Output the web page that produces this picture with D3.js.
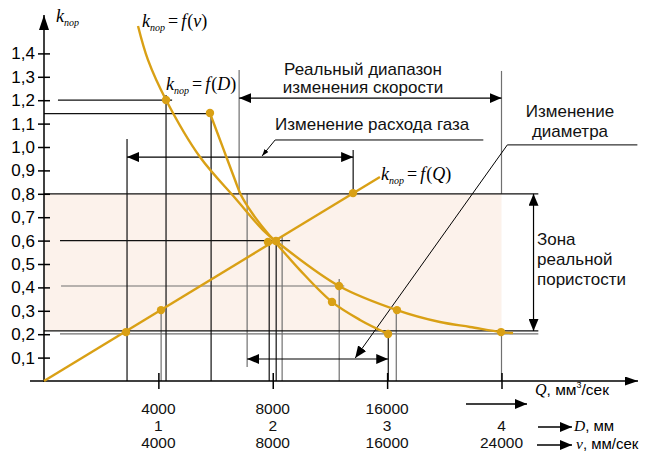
<!DOCTYPE html>
<html>
<head>
<meta charset="utf-8">
<script src="https://cdn.jsdelivr.net/npm/d3@7"></script>
<style>
  body { margin: 0; background: #fff; }
  svg { display: block; font-family: "Liberation Sans", Arial, sans-serif; }
  .math { font-family: "Liberation Serif", "Times New Roman", serif; font-style: italic; }
</style>
</head>
<body>
<svg id="chart" width="654" height="452"></svg>
<script>
// x runs in "position" units (tick 1..4), y is k_пор
var kTicks = [0.1, 0.2, 0.3, 0.4, 0.5, 0.6, 0.7, 0.8, 0.9, 1.0, 1.1, 1.2, 1.3, 1.4];
var xTicks = [1, 2, 3, 4];
var qLabels = ["4000", "8000", "16000"];
var dLabels = ["1", "2", "3", "4"];
var vLabels = ["4000", "8000", "16000", "24000"];

// zone of real porosity
var zone = [0.214, 0.8];

// curves, [position, k]
var curveV = [[0.822, 1.517], [0.909, 1.372], [1.067, 1.201], [1.364, 0.957], [1.678, 0.778],
  [1.915, 0.645], [2.028, 0.598], [2.579, 0.406], [3.086, 0.303], [3.462, 0.252],
  [3.725, 0.231], [3.996, 0.209], [4.101, 0.205]];
var curveD = [[1.451, 1.145], [1.565, 0.996], [1.670, 0.859], [1.722, 0.795], [1.819, 0.718],
  [1.932, 0.645], [2.081, 0.560], [2.238, 0.474], [2.518, 0.338], [2.763, 0.261], [3.008, 0.201]];
var lineQ = [[0, 0], [2.937, 0.872]];

var dotsV = [[1.067, 1.201], [2.579, 0.406], [3.086, 0.303], [3.996, 0.209]];
var dotsD = [[1.451, 1.145], [2.518, 0.338], [3.008, 0.201]];
var dotsQ = [[0.717, 0.209], [1.023, 0.303], [1.958, 0.594], [2.028, 0.598], [2.702, 0.803]];

// guide lines: vertical [pos, k0, k1], horizontal [k, pos0, pos1]
var vDark = [[0.726, 0, 1.034], [1.067, 0, 1.222], [1.461, 0, 1.158], [1.969, 0, 0.594],
  [2.03, 0, 0.6], [2.703, 0.8, 0.987], [3.01, 0, 0.2]];
var vGray = [[1.024, 0, 0.303], [1.706, 0.8, 1.329], [1.776, 0.06, 0.8], [2.082, 0, 0.62],
  [2.581, 0, 0.436], [3.08, 0, 0.303], [4.0, 0.8, 1.325], [4.0, 0, 0.214]];
var hDark = [[1.2, 0.122, 1.12], [1.143, 0, 1.461], [0.8, 0, 4.322], [0.6, 0.14, 2.152],
  [0.214, 0, 4.322]];
var hGray = [[0.406, 0.149, 2.625], [0.201, 0.14, 4.322]];

// range arrows [pos0, k0, pos1, k1]
var ranges = [[1.706, 1.209, 4.0, 1.209], [0.726, 0.957, 2.703, 0.957],
  [1.776, 0.094, 3.01, 0.094], [4.28, 0.8, 4.28, 0.214]];

var gold = "#d9a015";

var svg = d3.select("#chart");
var x = d3.scaleLinear().domain([0, 4]).range([44, 501.5]);
var y = d3.scaleLinear().domain([0, 1.4]).range([381, 53.4]);

// -- arrow heads
var defs = svg.append("defs");
function marker(id, len, half) {
  defs.append("marker")
    .attr("id", id)
    .attr("markerUnits", "userSpaceOnUse")
    .attr("markerWidth", len).attr("markerHeight", half * 2)
    .attr("refX", len).attr("refY", half)
    .attr("orient", "auto-start-reverse")
    .append("path")
    .attr("d", "M0,0L" + len + "," + half + "L0," + (half * 2) + "Z")
    .attr("fill", "#000");
}
marker("ah", 12, 5);
marker("ahs", 7, 2.5);
marker("ahy", 15, 5);
marker("ahx", 13, 4.5);

// -- shaded zone
svg.append("rect")
  .attr("x", x(0)).attr("y", y(zone[1]))
  .attr("width", x(4) - x(0)).attr("height", y(zone[0]) - y(zone[1]))
  .attr("fill", "#fcf2eb");

// -- guide lines
function vlines(data, color) {
  svg.append("g").selectAll("line").data(data).enter().append("line")
    .attr("x1", function(d) { return x(d[0]); }).attr("x2", function(d) { return x(d[0]); })
    .attr("y1", function(d) { return y(d[1]); }).attr("y2", function(d) { return y(d[2]); })
    .attr("stroke", color).attr("stroke-width", 1.2);
}
function hlines(data, color) {
  svg.append("g").selectAll("line").data(data).enter().append("line")
    .attr("x1", function(d) { return x(d[1]); }).attr("x2", function(d) { return x(d[2]); })
    .attr("y1", function(d) { return y(d[0]); }).attr("y2", function(d) { return y(d[0]); })
    .attr("stroke", color).attr("stroke-width", 1.2);
}
vlines(vGray, "#707070");
hlines(hGray, "#707070");
vlines(vDark, "#111");
hlines(hDark, "#111");

// -- y axis
var yAxis = svg.append("g")
  .attr("transform", "translate(" + x(0) + ",0)")
  .call(d3.axisLeft(y).tickValues(kTicks).tickSize(6)
    .tickFormat(function(d) { return d3.format(".1f")(d).replace(".", ","); }));
yAxis.select(".domain").remove();
yAxis.selectAll(".tick line").attr("x1", -6).attr("x2", 6).attr("stroke", "#000").attr("stroke-width", 1.5);
yAxis.selectAll(".tick text").attr("x", -9).attr("font-size", 17)
  .attr("font-family", "Liberation Sans, Arial, sans-serif").attr("fill", "#000");
svg.append("line")
  .attr("x1", x(0)).attr("x2", x(0)).attr("y1", y(0) + 1).attr("y2", 15)
  .attr("stroke", "#000").attr("stroke-width", 1.5).attr("marker-end", "url(#ahy)");

// -- x axis
var xAxis = svg.append("g")
  .attr("transform", "translate(0," + y(0) + ")")
  .call(d3.axisBottom(x).tickValues(xTicks).tickSize(8).tickFormat(""));
xAxis.select(".domain").remove();
xAxis.selectAll(".tick line").attr("y1", -8).attr("y2", 8).attr("stroke", "#000").attr("stroke-width", 1.5);
svg.append("line")
  .attr("x1", 30).attr("x2", 638).attr("y1", y(0)).attr("y2", y(0))
  .attr("stroke", "#000").attr("stroke-width", 1.5).attr("marker-end", "url(#ahx)");

// -- range arrows
svg.append("g").selectAll("line").data(ranges).enter().append("line")
  .attr("x1", function(d) { return x(d[0]); }).attr("y1", function(d) { return y(d[1]); })
  .attr("x2", function(d) { return x(d[2]); }).attr("y2", function(d) { return y(d[3]); })
  .attr("stroke", "#000").attr("stroke-width", 1.2)
  .attr("marker-start", "url(#ah)").attr("marker-end", "url(#ah)");

// -- leaders
svg.append("path")
  .attr("d", "M" + x(3.841) + "," + y(1.03) + "L" + x(2.021) + "," + y(1.03) + "L" + x(1.907) + "," + y(0.962))
  .attr("fill", "none").attr("stroke", "#000").attr("stroke-width", 1).attr("marker-end", "url(#ahs)");
svg.append("path")
  .attr("d", "M" + x(5.188) + "," + y(1.009) + "L" + x(4.051) + "," + y(1.009) + "L" + x(2.721) + "," + y(0.098))
  .attr("fill", "none").attr("stroke", "#000").attr("stroke-width", 1).attr("marker-end", "url(#ah)");

// -- curves
var line = d3.line()
  .x(function(d) { return x(d[0]); })
  .y(function(d) { return y(d[1]); })
  .curve(d3.curveCatmullRom);
[curveV, curveD, lineQ].forEach(function(c) {
  svg.append("path").datum(c).attr("d", line)
    .attr("fill", "none").attr("stroke", gold).attr("stroke-width", 2.4);
});
svg.append("g").selectAll("circle").data(dotsV.concat(dotsD, dotsQ)).enter().append("circle")
  .attr("cx", function(d) { return x(d[0]); })
  .attr("cy", function(d) { return y(d[1]); })
  .attr("r", 4.2).attr("fill", gold);

// -- k_пор = f(...) labels
function kLabel(px, py, arg) {
  var t = svg.append("text").attr("class", "math").attr("x", px).attr("y", py).attr("font-size", 18);
  t.append("tspan").text("k");
  t.append("tspan").attr("font-size", 10).attr("dy", 4).text("пор");
  if (arg) {
    t.append("tspan").attr("dy", -4).attr("font-style", "normal").attr("dx", 3).text("=");
    t.append("tspan").attr("dx", 3).text("f");
    t.append("tspan").attr("font-style", "normal").attr("dx", 1).text("(");
    t.append("tspan").text(arg);
    t.append("tspan").attr("font-style", "normal").text(")");
  }
}
kLabel(56, 22, null);
kLabel(142, 27, "v");
kLabel(166, 90, "D");
kLabel(381, 180, "Q");

// -- annotations
function label(px, py, str, anchor) {
  svg.append("text").attr("x", px).attr("y", py).attr("font-size", 17)
    .attr("text-anchor", anchor || "start").attr("fill", "#111").text(str);
}
label(363, 75, "Реальный диапазон", "middle");
label(363, 93, "изменения скорости", "middle");
label(275, 130, "Изменение расхода газа");
label(570, 117, "Изменение", "middle");
label(570, 137, "диаметра", "middle");
label(537, 245, "Зона");
label(537, 265, "реальной");
label(537, 285, "пористости");

// -- bottom scale rows
function row(labels, py) {
  svg.append("g").selectAll("text").data(labels).enter().append("text")
    .attr("x", function(d, i) { return x(xTicks[i]); }).attr("y", py)
    .attr("text-anchor", "middle").attr("font-size", 15.5).attr("fill", "#111")
    .text(function(d) { return d; });
}
row(qLabels, 414);
row(dLabels, 431);
row(vLabels, 448);

// row arrows and unit names
[[466, 527, 404], [538, 572, 427], [537, 572, 445]].forEach(function(a) {
  svg.append("line").attr("x1", a[0]).attr("x2", a[1]).attr("y1", a[2]).attr("y2", a[2])
    .attr("stroke", "#000").attr("stroke-width", 1.5).attr("marker-end", "url(#ah)");
});
var q = svg.append("text").attr("x", 535).attr("y", 395).attr("font-size", 15.5);
q.append("tspan").attr("class", "math").attr("font-size", 16).text("Q");
q.append("tspan").text(", мм");
q.append("tspan").attr("font-size", 9).attr("dy", -7).text("3");
q.append("tspan").attr("dy", 7).text("/сек");
var dd = svg.append("text").attr("x", 574).attr("y", 431).attr("font-size", 15);
dd.append("tspan").attr("class", "math").attr("font-size", 15.5).text("D");
dd.append("tspan").text(", мм");
var vv = svg.append("text").attr("x", 576).attr("y", 449).attr("font-size", 15);
vv.append("tspan").attr("class", "math").attr("font-size", 15.5).text("v");
vv.append("tspan").text(", мм/сек");
</script>
</body>
</html>
